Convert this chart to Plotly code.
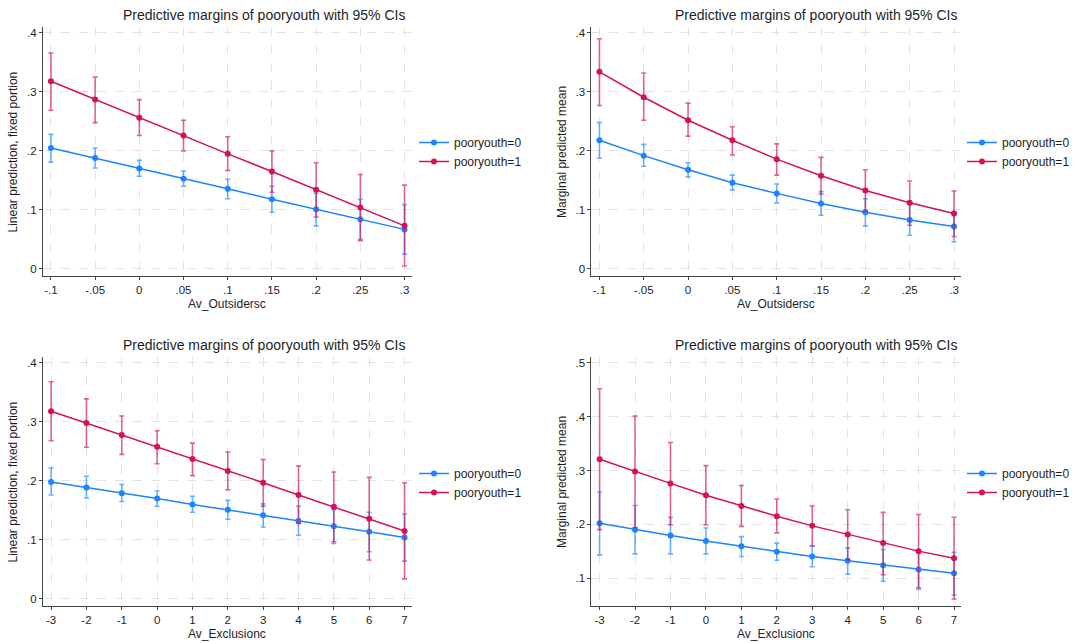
import plotly.graph_objects as go

# ---------------- data ----------------
x_out = [-0.1, -0.05, 0, 0.05, 0.1, 0.15, 0.2, 0.25, 0.3]
x_out_labels = ["-.1", "-.05", "0", ".05", ".1", ".15", ".2", ".25", ".3"]
x_exc = [-3, -2, -1, 0, 1, 2, 3, 4, 5, 6, 7]
x_exc_labels = ["-3", "-2", "-1", "0", "1", "2", "3", "4", "5", "6", "7"]

# Panel 1: linear prediction vs Av_Outsidersc
p1_y0 = [0.205, 0.188, 0.170, 0.153, 0.136, 0.118, 0.101, 0.084, 0.067]
p1_lo0 = [0.181, 0.171, 0.157, 0.140, 0.119, 0.096, 0.073, 0.050, 0.025]
p1_hi0 = [0.228, 0.205, 0.184, 0.166, 0.152, 0.140, 0.128, 0.118, 0.109]
p1_y1 = [0.318, 0.287, 0.256, 0.226, 0.195, 0.165, 0.134, 0.104, 0.073]
p1_lo1 = [0.269, 0.248, 0.226, 0.200, 0.167, 0.130, 0.088, 0.048, 0.005]
p1_hi1 = [0.366, 0.325, 0.287, 0.252, 0.224, 0.200, 0.180, 0.160, 0.142]

# Panel 2: marginal predicted mean vs Av_Outsidersc
p2_y0 = [0.218, 0.192, 0.168, 0.146, 0.128, 0.111, 0.096, 0.083, 0.072]
p2_lo0 = [0.188, 0.174, 0.156, 0.134, 0.112, 0.091, 0.073, 0.057, 0.046]
p2_hi0 = [0.248, 0.211, 0.180, 0.159, 0.144, 0.131, 0.119, 0.110, 0.097]
p2_y1 = [0.334, 0.291, 0.252, 0.218, 0.186, 0.158, 0.133, 0.112, 0.094]
p2_lo1 = [0.277, 0.252, 0.225, 0.193, 0.159, 0.127, 0.098, 0.074, 0.055]
p2_hi1 = [0.390, 0.332, 0.281, 0.241, 0.212, 0.189, 0.168, 0.149, 0.132]

# Panel 3: linear prediction vs Av_Exclusionc
p3_y0 = [0.198, 0.189, 0.179, 0.170, 0.160, 0.151, 0.142, 0.132, 0.123, 0.114, 0.104]
p3_lo0 = [0.176, 0.171, 0.165, 0.157, 0.147, 0.135, 0.122, 0.108, 0.094, 0.080, 0.064]
p3_hi0 = [0.222, 0.208, 0.194, 0.183, 0.174, 0.167, 0.161, 0.157, 0.151, 0.147, 0.144]
p3_y1 = [0.318, 0.298, 0.278, 0.258, 0.237, 0.217, 0.197, 0.176, 0.156, 0.136, 0.115]
p3_lo1 = [0.268, 0.257, 0.245, 0.229, 0.209, 0.185, 0.157, 0.128, 0.097, 0.066, 0.034]
p3_hi1 = [0.368, 0.339, 0.310, 0.285, 0.264, 0.249, 0.236, 0.225, 0.215, 0.206, 0.197]

# Panel 4: marginal predicted mean vs Av_Exclusionc
p4_y0 = [0.202, 0.190, 0.179, 0.169, 0.159, 0.149, 0.140, 0.132, 0.124, 0.116, 0.109]
p4_lo0 = [0.143, 0.145, 0.145, 0.145, 0.140, 0.133, 0.121, 0.107, 0.094, 0.079, 0.068]
p4_hi0 = [0.260, 0.235, 0.213, 0.193, 0.177, 0.165, 0.159, 0.156, 0.153, 0.151, 0.148]
p4_y1 = [0.321, 0.298, 0.276, 0.254, 0.234, 0.215, 0.197, 0.181, 0.165, 0.150, 0.137]
p4_lo1 = [0.190, 0.194, 0.199, 0.199, 0.196, 0.184, 0.160, 0.134, 0.106, 0.082, 0.061]
p4_hi1 = [0.452, 0.401, 0.352, 0.309, 0.272, 0.247, 0.234, 0.227, 0.222, 0.218, 0.213]

y_ticks_04 = [0, 0.1, 0.2, 0.3, 0.4]
y_labels_04 = ["0", ".1", ".2", ".3", ".4"]
y_ticks_15 = [0.1, 0.2, 0.3, 0.4, 0.5]
y_labels_15 = [".1", ".2", ".3", ".4", ".5"]

title_text = "Predictive margins of pooryouth with 95% CIs"
series_names = ["pooryouth=0", "pooryouth=1"]
ytitle_lin = "Linear prediction, fixed portion"
ytitle_mar = "Marginal predicted mean"
xtitle_out = "Av_Outsidersc"
xtitle_exc = "Av_Exclusionc"

# ---------------- style ----------------
W, H = 1075, 643
FONT = "Arial, Liberation Sans, Helvetica, sans-serif"
BLUE = "#1a85ff"
RED = "#d41159"
BLUE_E = "rgba(26,133,255,0.65)"
RED_E = "rgba(212,17,89,0.65)"
AX = "#444444"
GRID = "#e3e3e3"
TXT = "#1e1e1e"

fig = go.Figure()

def px_x(p):
    return p / W

def px_y(p):
    return 1 - p / H

panels = [
    dict(xd=(43, 412), yd=(27, 276), x=x_out, xl=x_out_labels, xr=(-0.109, 0.308),
         yr=(-0.012, 0.41), yt=y_ticks_04, ytl=y_labels_04,
         s0=(p1_y0, p1_lo0, p1_hi0), s1=(p1_y1, p1_lo1, p1_hi1),
         ytitle=ytitle_lin, xtitle=xtitle_out, leg=(414, 152), ytx=13, ttx=264),
    dict(xd=(592, 962), yd=(27, 276), x=x_out, xl=x_out_labels, xr=(-0.109, 0.308),
         yr=(-0.012, 0.41), yt=y_ticks_04, ytl=y_labels_04,
         s0=(p2_y0, p2_lo0, p2_hi0), s1=(p2_y1, p2_lo1, p2_hi1),
         ytitle=ytitle_mar, xtitle=xtitle_out, leg=(963, 152), ytx=562, ttx=817),
    dict(xd=(43, 412), yd=(357, 606), x=x_exc, xl=x_exc_labels, xr=(-3.23, 7.2),
         yr=(-0.012, 0.41), yt=y_ticks_04, ytl=y_labels_04,
         s0=(p3_y0, p3_lo0, p3_hi0), s1=(p3_y1, p3_lo1, p3_hi1),
         ytitle=ytitle_lin, xtitle=xtitle_exc, leg=(414, 483), ytx=13, ttx=264),
    dict(xd=(592, 962), yd=(357, 606), x=x_exc, xl=x_exc_labels, xr=(-3.23, 7.2),
         yr=(0.048, 0.511), yt=y_ticks_15, ytl=y_labels_15,
         s0=(p4_y0, p4_lo0, p4_hi0), s1=(p4_y1, p4_lo1, p4_hi1),
         ytitle=ytitle_mar, xtitle=xtitle_exc, leg=(963, 483), ytx=562, ttx=817),
]

annotations = []
for i, p in enumerate(panels, start=1):
    sfx = "" if i == 1 else str(i)
    xa, ya = "x" + sfx, "y" + sfx
    legname = "legend" + sfx
    for k, (ser, col, ecol) in enumerate([(p["s0"], BLUE, BLUE_E), (p["s1"], RED, RED_E)]):
        yv, lo, hi = ser
        fig.add_trace(go.Scatter(
            x=p["x"], y=yv, mode="lines+markers", name=series_names[k],
            line=dict(color=col, width=1.5),
            marker=dict(color=col, size=6),
            error_y=dict(type="data", symmetric=False,
                         array=[h - v for h, v in zip(hi, yv)],
                         arrayminus=[v - l for v, l in zip(yv, lo)],
                         color=ecol, thickness=1.6, width=2.5),
            xaxis=xa, yaxis=ya, legend=legname, showlegend=True,
        ))
    axis_common = dict(showline=True, linecolor=AX, linewidth=1, ticks="outside",
                       ticklen=3, tickcolor=AX, showgrid=True, gridcolor=GRID,
                       griddash="dash", gridwidth=1, zeroline=False,
                       tickfont=dict(family=FONT, size=11.5, color=TXT))
    fig.update_layout(**{
        "xaxis" + sfx: dict(domain=[px_x(p["xd"][0]), px_x(p["xd"][1])],
                            range=list(p["xr"]), tickvals=p["x"], ticktext=p["xl"],
                            anchor=ya, **axis_common),
        "yaxis" + sfx: dict(domain=[px_y(p["yd"][1]), px_y(p["yd"][0])],
                            range=list(p["yr"]), tickvals=p["yt"], ticktext=p["ytl"],
                            anchor=xa, **axis_common),
        legname: dict(x=px_x(p["leg"][0]), y=px_y(p["leg"][1]), xanchor="left",
                      yanchor="middle", bgcolor="rgba(0,0,0,0)",
                      font=dict(family=FONT, size=12, color=TXT),
                      tracegroupgap=0, itemwidth=30),
    })
    top = p["yd"][0]
    annotations.append(dict(text=title_text, x=px_x(p["ttx"]), y=px_y(top - 12),
                            xref="paper", yref="paper", showarrow=False,
                            xanchor="center", yanchor="middle",
                            font=dict(family=FONT, size=14, color=TXT)))
    annotations.append(dict(text=p["xtitle"], x=px_x((p["xd"][0] + p["xd"][1]) / 2),
                            y=px_y(p["yd"][1] + 28), xref="paper", yref="paper",
                            showarrow=False, xanchor="center", yanchor="middle",
                            font=dict(family=FONT, size=12, color=TXT)))
    annotations.append(dict(text=p["ytitle"], x=px_x(p["ytx"]),
                            y=px_y((p["yd"][0] + p["yd"][1]) / 2),
                            xref="paper", yref="paper", showarrow=False, textangle=-90,
                            xanchor="center", yanchor="middle",
                            font=dict(family=FONT, size=12, color=TXT)))

fig.update_layout(width=W, height=H, margin=dict(l=0, r=0, t=0, b=0),
                  paper_bgcolor="white", plot_bgcolor="white",
                  annotations=annotations, font=dict(family=FONT))

fig.write_html("out.html", config={"displayModeBar": False},
               post_script="document.body.style.margin='0';document.body.style.overflow='hidden';")
